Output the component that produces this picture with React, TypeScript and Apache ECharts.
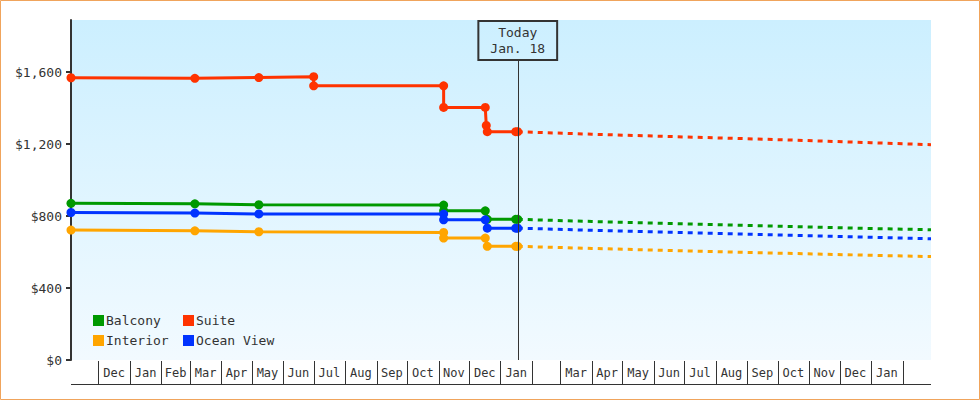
import React, { useEffect, useRef } from "react";
import * as echarts from "echarts";

// ---- Data ----
const axisStart = "2017-11-04";
const axisEnd = "2020-02-29";
const todayDate = "2019-01-18";
const todayText = "Today\nJan. 18";

const monthStarts = [
  "2017-11-04", "2017-12-01",
  "2018-01-01", "2018-02-01", "2018-03-01", "2018-04-01", "2018-05-01", "2018-06-01",
  "2018-07-01", "2018-08-01", "2018-09-01", "2018-10-01", "2018-11-01", "2018-12-01",
  "2019-01-01", "2019-02-01", "2019-03-01", "2019-04-01", "2019-05-01", "2019-06-01",
  "2019-07-01", "2019-08-01", "2019-09-01", "2019-10-01", "2019-11-01", "2019-12-01",
  "2020-01-01", "2020-02-01",
];
const monthLabels = [
  "", "Dec",
  "Jan", "Feb", "Mar", "Apr", "May", "Jun", "Jul", "Aug", "Sep", "Oct", "Nov", "Dec",
  "Jan", "", "Mar", "Apr", "May", "Jun", "Jul", "Aug", "Sep", "Oct", "Nov", "Dec",
  "Jan", "",
];

const yTicks = [0, 400, 800, 1200, 1600];

const cabinDates = [
  "2017-11-04", "2018-03-06", "2018-05-08", "2018-11-06", "2018-11-06",
  "2018-12-17", "2018-12-19", "2019-01-16", "2019-01-18",
];
const balconyPrices = [871, 868, 863, 861, 829, 829, 782, 782, 782];
const oceanViewPrices = [820, 817, 812, 811, 779, 779, 733, 733, 733];
const interiorPrices = [722, 718, 713, 709, 678, 678, 632, 632, 632];

const suiteDates = [
  "2017-11-04", "2018-03-06", "2018-05-08", "2018-07-01", "2018-07-01",
  "2018-11-06", "2018-11-06", "2018-12-17", "2018-12-18", "2018-12-19",
  "2019-01-16", "2019-01-18",
];
const suitePrices = [1569, 1566, 1570, 1575, 1524, 1524, 1404, 1404, 1304, 1269, 1269, 1269];

const forecastDates = ["2019-01-18", "2019-04-01", "2019-07-01", "2019-10-01", "2020-01-01", "2020-02-29"];
const balconyForecast = [782, 770, 757, 744, 731, 724];
const oceanViewForecast = [733, 721, 708, 695, 682, 674];
const interiorForecast = [632, 620, 607, 594, 582, 575];
const suiteForecast = [1269, 1255, 1240, 1225, 1208, 1197];

// ---- Styling constants ----
const FONT = "DejaVu Sans Mono";
const TEXT = "#333333";
const COLORS = { Balcony: "#009900", Suite: "#ff3300", Interior: "#ffa500", "Ocean View": "#0033ff" };
const Y_MAX = 1890;
const TODAY_LINE_TOP = 1668;

function ts(s: string): number {
  const [y, m, d] = s.split("-").map(Number);
  return new Date(y, m - 1, d).getTime();
}

function pairs(dates: string[], vals: number[]) {
  return dates.map((d, i) => [ts(d), vals[i]]);
}

export default function App() {
  const ref = useRef<HTMLDivElement>(null);

  useEffect(() => {
    if (!ref.current) return;
    const chart = echarts.init(ref.current, null, { renderer: "svg" });

    const monthData = monthStarts.map((s, i) => [
      ts(s),
      i + 1 < monthStarts.length ? ts(monthStarts[i + 1]) : ts(axisEnd),
      i,
    ]);

    const hist = [
      { name: "Balcony", data: pairs(cabinDates, balconyPrices), fc: pairs(forecastDates, balconyForecast) },
      { name: "Ocean View", data: pairs(cabinDates, oceanViewPrices), fc: pairs(forecastDates, oceanViewForecast) },
      { name: "Interior", data: pairs(cabinDates, interiorPrices), fc: pairs(forecastDates, interiorForecast) },
      { name: "Suite", data: pairs(suiteDates, suitePrices), fc: pairs(forecastDates, suiteForecast) },
    ];

    const series: any[] = [];
    hist.forEach((h) => {
      const color = (COLORS as any)[h.name];
      series.push({
        name: h.name + " forecast",
        type: "line",
        data: h.fc,
        showSymbol: false,
        symbol: "none",
        color,
        lineStyle: { color, width: 3, type: [5, 5] },
        z: 2,
        markLine:
          h.name === "Suite"
            ? {
                silent: true,
                symbol: ["none", "none"],
                animation: false,
                lineStyle: { color: TEXT, width: 1, type: "solid" },
                label: {
                  show: true,
                  position: "end",
                  distance: 0,
                  formatter: todayText,
                  fontFamily: FONT,
                  fontSize: 13,
                  lineHeight: 16,
                  color: TEXT,
                  borderColor: TEXT,
                  borderWidth: 1,
                  padding: [4, 12, 3, 12],
                  backgroundColor: "rgba(0,0,0,0)",
                },
                data: [[{ coord: [ts(todayDate), 0] }, { coord: [ts(todayDate), TODAY_LINE_TOP] }]],
              }
            : undefined,
      });
    });
    hist.forEach((h) => {
      const color = (COLORS as any)[h.name];
      series.push({
        name: h.name,
        type: "line",
        data: h.data,
        symbol: "circle",
        symbolSize: 9,
        showSymbol: true,
        color,
        itemStyle: { color },
        lineStyle: { color, width: 3 },
        z: 3,
      });
    });

    series.push({
      type: "custom",
      name: "months",
      silent: true,
      clip: false,
      data: monthData,
      encode: { x: [0, 1], y: 2 },
      renderItem: (params: any, api: any) => {
        const s = api.value(0);
        const e = api.value(1);
        const idx = api.value(2);
        const p0 = api.coord([s, 0]);
        const p1 = api.coord([e, 0]);
        const y0 = Math.round(p0[1]);
        const x0 = Math.round(p0[0]) + 0.5;
        const x1 = Math.round(p1[0]);
        const children: any[] = [
          {
            type: "line",
            shape: { x1: Math.round(p0[0]), y1: y0 + 24.5, x2: x1, y2: y0 + 24.5 },
            style: { stroke: TEXT, lineWidth: 1 },
          },
          {
            type: "text",
            x: (p0[0] + p1[0]) / 2,
            y: y0 + 13,
            style: {
              text: monthLabels[idx],
              align: "center",
              verticalAlign: "middle",
              font: `12px "${FONT}"`,
              fill: TEXT,
            },
          },
        ];
        if (idx > 0) {
          children.push({
            type: "line",
            shape: { x1: x0, y1: y0 + 1, x2: x0, y2: y0 + 25 },
            style: { stroke: TEXT, lineWidth: 1 },
          });
        }
        return { type: "group", children };
      },
      z: 5,
    });

    const legendBase = {
      orient: "horizontal",
      icon: "rect",
      itemWidth: 11,
      itemHeight: 11,
      padding: 0,
      selectedMode: false,
      textStyle: { fontFamily: FONT, fontSize: 13, color: TEXT, padding: [0, 0, 0, -3] },
    };

    const option: any = {
      animation: false,
      grid: {
        left: 71,
        right: 49,
        top: 20,
        bottom: 40,
        show: true,
        borderWidth: 0,
        backgroundColor: new echarts.graphic.LinearGradient(0, 0, 0, 1, [
          { offset: 0, color: "#ccefff" },
          { offset: 1, color: "#f2faff" },
        ]),
      },
      legend: [
        { ...legendBase, data: ["Balcony"], left: 93, top: 314 },
        { ...legendBase, data: ["Suite"], left: 183, top: 314 },
        { ...legendBase, data: ["Interior"], left: 93, top: 334 },
        { ...legendBase, data: ["Ocean View"], left: 183, top: 334 },
      ],
      xAxis: {
        type: "time",
        min: ts(axisStart),
        max: ts(axisEnd),
        axisLine: { show: false },
        axisTick: { show: false },
        axisLabel: { show: false },
        splitLine: { show: false },
      },
      yAxis: {
        type: "value",
        min: 0,
        max: Y_MAX,
        axisLine: { show: true, lineStyle: { color: TEXT, width: 2 } },
        axisTick: { show: true, length: 5, lineStyle: { color: TEXT, width: 2 }, customValues: yTicks },
        axisLabel: {
          customValues: yTicks,
          margin: 9,
          fontFamily: FONT,
          fontSize: 13,
          color: TEXT,
          formatter: (v: number) => "$" + v.toLocaleString("en-US"),
        },
        splitLine: { show: false },
      },
      graphic: [
        {
          type: "rect",
          silent: true,
          shape: { x: 0.5, y: 0.5, width: 979, height: 399 },
          style: { fill: "none", stroke: "#f0a45c", lineWidth: 1 },
          z: 100,
        },
      ],
      series,
    };

    chart.setOption(option);
    return () => chart.dispose();
  }, []);

  return (
    <div
      ref={ref}
      style={{ position: "absolute", left: 0, top: 0, width: 980, height: 400, background: "#ffffff" }}
    />
  );
}
